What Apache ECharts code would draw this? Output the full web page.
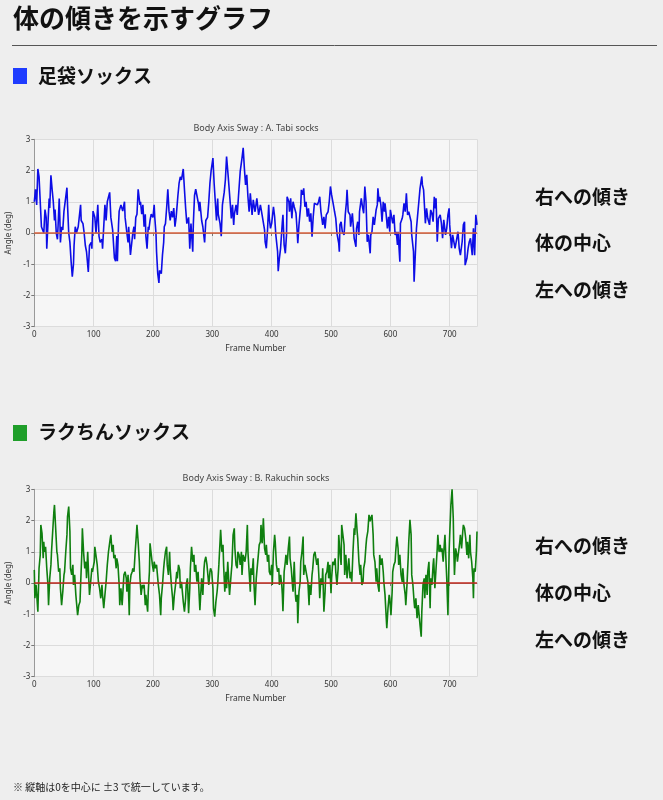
<!DOCTYPE html>
<html><head><meta charset="utf-8">
<script src="https://cdn.jsdelivr.net/npm/echarts@6/dist/echarts.min.js"></script>
<style>html,body{margin:0;padding:0;background:#eeeeee;}#c{width:663px;height:800px;}</style>
</head><body><div id="c"></div>
<script>
// [frame, angle(deg)] samples
const tabiSway = [[0,1.0],[2,1.4],[4,0.9],[6,2.05],[8,1.8],[10,1.0],[12,0.2],[15,0.15],[16,0.0],[18,0.75],[20,0.5],[21,-0.5],[23,0.3],[25,1.1],[26,0.8],[28,1.85],[30,1.4],[32,1.0],[33,0.7],[34,0.4],[35,0.75],[37,0.0],[39,-0.2],[40,0.2],[42,1.1],[43,0.5],[44,-0.3],[46,0.2],[48,0.1],[50,0.7],[55,1.45],[56,0.9],[58,0.0],[60,-0.3],[62,-0.9],[64,-1.4],[66,-1.0],[67,-0.4],[69,0.2],[71,0.0],[74,0.2],[78,0.9],[79,0.4],[82,0.3],[84,0.0],[86,-0.4],[88,-0.6],[91,-1.25],[93,-0.4],[96,-0.3],[97,-0.5],[99,0.7],[102,0.5],[104,0.0],[107,0.9],[109,-0.1],[111,-0.3],[114,-0.2],[115,-0.5],[117,0.2],[119,0.9],[121,0.4],[123,1.0],[127,1.3],[129,0.5],[132,0.1],[135,-0.8],[137,-0.9],[139,-0.1],[140,-0.9],[142,0.3],[143,0.7],[146,0.9],[149,0.7],[152,1.0],[153,0.5],[156,0.0],[158,-0.3],[159,0.2],[162,-0.7],[166,0.0],[168,0.2],[169,-0.2],[171,0.5],[173,0.6],[175,1.4],[178,0.9],[179,1.0],[181,0.6],[183,0.9],[185,0.2],[187,0.6],[188,-0.1],[190,-0.5],[192,0.2],[193,0.1],[195,0.4],[197,0.6],[200,0.5],[202,0.9],[203,0.5],[205,0.0],[206,-0.6],[208,-1.3],[210,-1.6],[211,-1.2],[214,-1.3],[216,-0.7],[217,-0.7],[218,-0.3],[219,0.2],[221,0.3],[223,0.8],[225,1.4],[227,0.7],[229,0.4],[231,0.7],[233,0.5],[235,0.8],[237,0.2],[239,0.5],[242,1.2],[244,1.6],[246,1.8],[248,1.7],[251,2.05],[253,1.4],[255,0.8],[257,0.3],[260,0.5],[262,-0.5],[264,0.3],[267,-0.6],[268,0.3],[270,1.2],[272,1.4],[274,1.2],[277,0.9],[278,0.7],[279,1.0],[282,0.4],[284,0.2],[287,-0.3],[289,0.4],[292,0.5],[294,1.0],[296,1.6],[298,2.0],[301,2.4],[303,1.6],[305,1.0],[307,0.4],[309,1.1],[310,0.6],[313,0.3],[315,-0.1],[317,0.9],[320,1.3],[322,1.7],[324,2.45],[327,1.75],[330,1.0],[332,0.47],[334,0.9],[336,0.26],[337,0.58],[340,0.9],[342,0.58],[344,1.16],[347,1.97],[350,2.4],[352,2.73],[354,2.07],[356,1.54],[358,1.86],[360,1.16],[362,0.68],[364,1.27],[367,0.58],[369,1.06],[372,0.68],[375,1.11],[378,0.58],[381,0.9],[383,0.68],[386,0.74],[388,0.1],[389,-0.28],[391,-0.49],[393,0.1],[395,0.9],[396,0.47],[398,0.15],[400,0.31],[403,0.84],[405,0.52],[407,-0.06],[410,-0.6],[411,-1.22],[413,-0.81],[415,-0.49],[418,0.36],[419,0.58],[421,-0.38],[423,-0.65],[425,-0.06],[426,1.16],[429,1.0],[430,0.68],[432,1.11],[434,0.47],[436,1.0],[438,0.84],[441,0.63],[443,0.04],[444,-0.33],[446,0.26],[449,0.9],[450,1.38],[452,1.22],[454,1.43],[456,0.84],[458,1.0],[460,0.52],[462,0.79],[464,0.36],[466,0.63],[468,-0.12],[470,0.52],[472,0.95],[474,1.0],[477,0.9],[479,1.0],[481,1.16],[483,0.68],[486,0.26],[488,0.52],[490,0.15],[492,0.58],[495,0.68],[497,1.0],[499,1.49],[501,1.22],[504,0.9],[506,0.68],[508,0.47],[510,-0.01],[513,-0.33],[514,-0.6],[515,0.26],[517,0.36],[519,0.04],[522,-0.06],[524,0.58],[526,1.0],[527,1.38],[529,0.68],[532,0.58],[533,0.2],[536,0.63],[537,0.36],[539,-0.17],[542,-0.44],[543,0.15],[545,0.36],[547,-0.06],[548,0.68],[551,1.11],[553,0.84],[555,0.63],[557,1.49],[559,1.0],[561,-0.28],[563,-0.06],[566,-0.65],[567,-0.06],[569,0.04],[571,0.52],[573,0.26],[576,0.74],[578,0.9],[579,1.43],[581,1.0],[582,1.16],[584,0.9],[586,0.36],[588,1.0],[590,0.68],[591,0.95],[593,0.58],[595,0.15],[597,0.52],[599,0.04],[600,0.74],[603,0.79],[604,0.31],[606,0.58],[608,-0.06],[610,0.04],[612,-0.38],[613,0.04],[616,-0.92],[617,0.31],[620,0.47],[621,0.58],[623,0.95],[625,0.68],[627,1.27],[629,0.58],[631,0.68],[633,0.52],[635,0.36],[636,-0.06],[639,-0.6],[640,-1.56],[642,-0.71],[644,0.15],[646,0.58],[648,1.0],[650,1.43],[653,1.81],[654,1.54],[656,1.38],[658,0.68],[659,0.31],[661,0.79],[663,0.47],[666,0.26],[668,0.74],[670,0.63],[672,0.36],[674,1.16],[676,0.79],[677,1.11],[679,-0.28],[681,0.47],[684,0.58],[686,0.31],[688,-0.17],[690,0.42],[693,-0.06],[695,0.15],[697,0.58],[699,0.79],[700,0.26],[703,-0.49],[705,-0.06],[707,-0.28],[709,-0.49],[712,-0.17],[714,0.04],[716,-0.49],[718,-0.71],[721,-0.28],[723,0.26],[725,0.36],[726,-1.03],[729,-0.81],[731,-0.49],[733,-0.28],[735,-0.17],[738,-0.71],[740,0.15],[742,-0.71],[744,0.58],[746,0.26]];

const rakuchinSway = [[0,0.42],[1,-0.49],[3,-0.06],[6,-0.92],[8,0.47],[10,0.9],[11,1.86],[13,1.59],[15,0.79],[16,1.32],[17,1.0],[19,1.16],[21,0.47],[23,-0.06],[24,-0.71],[26,0.15],[28,0.58],[29,1.0],[31,1.65],[33,2.29],[34,2.5],[36,1.75],[38,1.0],[39,0.9],[41,0.36],[43,0.47],[44,-0.17],[46,-0.71],[48,-0.28],[50,0.26],[51,0.36],[53,1.0],[55,1.54],[56,2.13],[58,2.45],[60,1.65],[61,0.47],[63,0.26],[65,0.58],[66,-0.06],[68,0.26],[70,-0.38],[71,-0.6],[73,-1.03],[75,-0.71],[77,-0.6],[78,-0.06],[80,0.9],[81,1.75],[83,1.0],[85,0.47],[87,0.68],[88,0.15],[90,1.0],[92,0.04],[93,-0.38],[95,0.04],[97,0.47],[98,0.36],[101,0.68],[102,1.16],[105,1.11],[106,0.58],[108,0.04],[110,-0.17],[112,-0.49],[114,-0.06],[115,-0.38],[117,-0.81],[119,-0.38],[121,0.04],[123,0.58],[125,1.0],[128,1.43],[129,1.54],[131,1.0],[133,1.22],[134,0.79],[136,0.9],[138,0.47],[139,0.79],[141,0.58],[143,-0.06],[144,-0.71],[146,-0.17],[148,-0.71],[150,-0.06],[151,0.26],[153,0.36],[155,0.15],[156,-0.28],[158,0.26],[160,-1.03],[161,-0.06],[163,0.26],[165,0.36],[166,0.47],[168,0.36],[170,1.0],[172,1.54],[173,1.86],[175,1.32],[177,0.68],[178,0.15],[180,-0.38],[182,-0.06],[183,-0.17],[185,-0.06],[187,-0.71],[188,-0.38],[191,-0.92],[192,-0.28],[194,0.36],[195,1.27],[197,1.32],[199,0.58],[201,0.36],[202,0.68],[204,0.47],[206,0.58],[208,0.63],[209,-0.06],[211,-0.38],[213,-1.03],[214,-0.49],[216,-0.06],[218,0.47],[219,0.68],[221,1.0],[223,1.16],[224,0.58],[226,0.26],[228,1.0],[229,0.47],[231,-0.06],[233,-0.49],[234,-0.87],[236,-0.38],[238,-0.06],[240,0.36],[241,0.15],[243,0.58],[245,0.42],[246,-0.17],[248,0.04],[250,-0.38],[251,-0.6],[253,-0.92],[255,-0.49],[256,-0.06],[258,0.15],[260,-0.97],[262,-0.17],[263,0.47],[265,1.16],[267,0.68],[269,0.9],[270,0.36],[272,0.58],[274,0.04],[276,0.36],[277,-0.06],[279,-0.87],[281,-0.17],[282,0.15],[284,-0.38],[286,0.47],[287,0.68],[289,0.84],[291,0.58],[292,0.36],[294,-0.06],[296,0.36],[297,0.47],[299,0.36],[301,-0.17],[302,-0.81],[304,-1.08],[306,-0.6],[308,-0.28],[309,-0.06],[311,0.58],[313,1.32],[314,1.7],[316,1.0],[318,1.22],[319,0.58],[321,-0.28],[323,0.36],[324,-0.17],[326,0.68],[328,-0.06],[329,-0.38],[332,0.36],[333,0.58],[335,1.54],[337,1.75],[338,1.11],[340,0.58],[342,0.47],[343,1.0],[345,0.9],[347,0.58],[349,1.0],[350,0.26],[352,0.9],[354,0.95],[355,0.68],[357,1.0],[359,1.86],[360,1.0],[362,0.36],[364,-0.28],[365,0.47],[367,0.26],[369,0.79],[370,0.04],[372,-0.71],[374,0.15],[376,0.58],[377,0.79],[379,1.22],[381,1.32],[382,1.86],[384,1.27],[386,2.07],[388,1.11],[390,0.9],[391,1.22],[393,0.68],[395,0.9],[396,0.36],[398,0.26],[400,0.58],[401,-0.06],[403,1.0],[405,1.54],[406,1.32],[408,0.58],[410,0.36],[412,0.47],[413,-0.06],[415,0.26],[417,-0.06],[418,-0.38],[419,-0.9],[421,0.36],[423,0.68],[424,0.9],[426,0.58],[428,1.11],[430,1.49],[431,0.79],[433,0.47],[435,-0.06],[436,-0.28],[438,0.68],[440,-0.38],[441,-0.6],[443,-0.38],[444,-1.29],[446,-0.28],[448,0.04],[449,0.68],[451,1.0],[453,1.49],[454,0.26],[456,0.58],[458,0.36],[459,0.42],[461,0.04],[463,-0.71],[464,-0.06],[466,-0.38],[468,0.26],[469,0.42],[471,0.9],[473,1.0],[474,0.95],[476,0.58],[478,0.79],[480,0.04],[481,-0.49],[483,0.15],[485,-0.06],[486,0.47],[488,-0.92],[490,-0.28],[491,0.26],[493,0.36],[495,0.68],[496,0.15],[498,0.58],[500,-0.33],[501,0.15],[503,0.68],[505,0.58],[507,0.79],[508,0.36],[510,-0.06],[512,0.47],[513,1.54],[515,1.0],[517,0.58],[518,1.86],[520,1.91],[522,1.22],[523,0.26],[525,0.9],[527,0.15],[528,0.36],[530,0.79],[532,0.15],[533,0.36],[535,0.04],[537,1.0],[539,1.75],[540,1.54],[542,2.23],[544,1.65],[545,1.43],[547,0.68],[549,0.26],[550,0.58],[552,-0.06],[554,0.04],[555,0.47],[557,0.68],[559,1.22],[560,1.43],[562,1.65],[564,2.18],[566,1.97],[567,2.07],[569,2.18],[571,1.54],[572,0.9],[574,0.68],[576,0.04],[577,0.47],[579,-0.06],[581,-0.28],[582,0.9],[584,0.58],[586,0.79],[588,0.36],[589,0.04],[591,-0.38],[593,-0.38],[594,-1.45],[596,-0.81],[598,-0.38],[599,-0.49],[601,-1.03],[603,-0.28],[604,0.36],[606,0.58],[608,0.68],[609,1.0],[611,1.49],[613,1.11],[614,0.58],[616,0.9],[618,0.26],[620,0.04],[621,0.47],[623,-0.06],[625,-0.38],[626,-0.71],[628,-0.06],[630,0.79],[631,1.32],[633,2.02],[635,1.54],[636,0.26],[638,-0.06],[640,-0.6],[641,-0.81],[643,-0.49],[645,-1.13],[647,-0.71],[648,-0.92],[650,-1.35],[652,-1.72],[653,-0.92],[655,-0.06],[657,0.15],[658,-0.49],[660,0.26],[662,-0.38],[663,0.36],[665,0.68],[667,-0.81],[668,0.15],[670,-0.06],[672,0.58],[673,0.79],[675,-0.17],[677,0.47],[679,1.11],[680,1.54],[682,1.0],[684,1.22],[685,1.0],[687,1.11],[689,0.68],[690,1.0],[692,1.54],[694,0.58],[695,0.15],[697,-1.03],[699,1.0],[700,1.54],[702,2.5],[704,3.0],[706,2.07],[707,1.0],[708,0.26],[710,1.11],[712,0.9],[713,0.68],[715,1.0],[717,1.32],[718,1.54],[720,1.11],[722,1.65],[723,1.86],[725,1.75],[727,1.43],[729,0.9],[730,1.32],[732,0.79],[734,1.54],[735,1.0],[737,0.68],[739,0.15],[740,-0.49],[741,0.47],[743,0.36],[745,1.0],[746,1.65]];

const chartTitles = ['Body Axis Sway : A. Tabi socks', 'Body Axis Sway : B. Rakuchin socks'];
const sectionNames = ['足袋ソックス', 'ラクちんソックス'];
const sideLabels = ['右への傾き', '体の中心', '左への傾き'];

const JP = '"Noto Sans CJK JP", "Noto Sans", sans-serif';
const LAT = '"Noto Sans", "Open Sans", sans-serif';
const chart = echarts.init(document.getElementById('c'), null, {renderer: 'canvas'});

const gridTops = [139.3, 489.3];
const lineColors = ['#0d0de6', '#0f7f0f'];
const zeroColors = ['#d9603b', '#c0281e'];

function xAx(i) {
  return {
    type: 'value', gridIndex: i, min: 0, max: 'dataMax', interval: 100,
    name: 'Frame Number', nameLocation: 'middle', nameGap: 17,
    nameTextStyle: {fontSize: 8.5, color: '#333', fontFamily: LAT},
    axisLine: {show: true, lineStyle: {color: '#999', width: 1}},
    axisTick: {show: true, length: 3, lineStyle: {color: '#777'}},
    axisLabel: {fontSize: 8, color: '#333', fontFamily: LAT, margin: 4, showMaxLabel: false},
    splitLine: {show: true, lineStyle: {color: '#dcdcdc', width: 1}}
  };
}
function yAx(i) {
  return {
    type: 'value', gridIndex: i, min: -3, max: 3, interval: 1,
    name: 'Angle (deg)', nameLocation: 'middle', nameGap: 20, nameRotate: 90,
    nameTextStyle: {fontSize: 8, color: '#333', fontFamily: LAT},
    axisLine: {show: true, lineStyle: {color: '#999', width: 1}},
    axisTick: {show: true, length: 3, lineStyle: {color: '#777'}},
    axisLabel: {fontSize: 8, color: '#333', fontFamily: LAT, margin: 4},
    splitLine: {show: true, lineStyle: {color: '#dcdcdc', width: 1}}
  };
}
function ser(i, data) {
  return {
    type: 'line', xAxisIndex: i, yAxisIndex: i, data: data, showSymbol: false,
    symbol: 'none', animation: false,
    lineStyle: {color: lineColors[i], width: 1.6},
    markLine: {
      silent: true, symbol: 'none', animation: false,
      label: {show: false},
      lineStyle: {color: zeroColors[i], width: 1.5, type: 'solid'},
      data: [{yAxis: 0}]
    }
  };
}

function txt(x, y, text, font, fill) {
  return {type: 'text', x: x, y: y, silent: true,
    style: {text: text, font: font, fill: fill, textVerticalAlign: 'middle', verticalAlign: 'middle', textAlign: 'left', align: 'left'}};
}

const graphics = [
  txt(13, 18, '体の傾きを示すグラフ', 'bold 26px ' + JP, '#111'),
  {type: 'line', silent: true, shape: {x1: 12, y1: 45.5, x2: 657, y2: 45.5}, style: {stroke: '#555', lineWidth: 1}},
  {type: 'rect', silent: true, shape: {x: 13, y: 68, width: 14, height: 16}, style: {fill: '#1f3cff'}},
  txt(38, 76, sectionNames[0], 'bold 19px ' + JP, '#111'),
  {type: 'rect', silent: true, shape: {x: 13, y: 425, width: 14, height: 16}, style: {fill: '#1f9e2a'}},
  txt(38, 432, sectionNames[1], 'bold 19px ' + JP, '#111'),
  txt(13, 787, '※ 縦軸は0を中心に ±3 で統一しています。', '10px ' + JP, '#222')
];
const sideY = [[197, 243, 290], [546, 593, 640]];
sideY.forEach(function (ys) {
  ys.forEach(function (y, k) { graphics.push(txt(535, y, sideLabels[k], 'bold 19px ' + JP, '#111')); });
});

chart.setOption({
  backgroundColor: '#eeeeee',
  animation: false,
  title: chartTitles.map(function (t, i) {
    return {text: t, left: 256, top: gridTops[i] - 15, textAlign: 'center', padding: 0,
      textStyle: {fontSize: 9, fontWeight: 'normal', color: '#444', fontFamily: LAT}};
  }),
  grid: gridTops.map(function (t) {
    return {left: 34.3, top: t, width: 442.7, height: 187.4, show: true, backgroundColor: '#f6f6f6',
      borderWidth: 0, containLabel: false, outerBoundsMode: 'none'};
  }),
  xAxis: [xAx(0), xAx(1)],
  yAxis: [yAx(0), yAx(1)],
  series: [ser(0, tabiSway), ser(1, rakuchinSway)],
  graphic: graphics
});
</script></body></html>
